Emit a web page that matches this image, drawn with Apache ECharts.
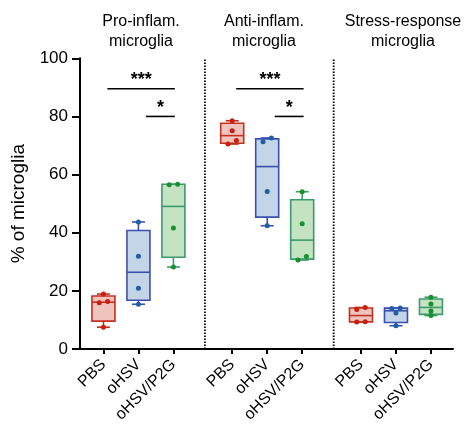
<!DOCTYPE html>
<html><head><meta charset="utf-8">
<script src="https://cdn.jsdelivr.net/npm/echarts@6/dist/echarts.min.js"></script>
<style>html,body{margin:0;padding:0;background:#fff}#c{width:469px;height:435px}</style>
</head><body><div id="c"></div>
<script>
// ---- data ----
const groupTitles = ['Pro-inflam.\nmicroglia', 'Anti-inflam.\nmicroglia', 'Stress-response\nmicroglia'];
const treatments = ['PBS', 'oHSV', 'oHSV/P2G'];
// individual animals (% of microglia), per group: [pro, anti, stress]
const pbsValues  = [[18.9, 16.3, 15.9, 7.5], [78.5, 75.1, 71.7, 70.5], [14.3, 13.6, 9.4, 9.3]];
const ohsvValues = [[43.7, 31.9, 20.9, 15.4], [72.6, 71.3, 54.2, 42.4], [14.1, 13.9, 12.4, 8.0]];
const p2gValues  = [[56.7, 56.5, 41.6, 28.2], [54.1, 43.1, 31.8, 30.6], [17.8, 15.5, 13.1, 11.5]];
const yTicks = [0, 20, 40, 60, 80, 100];
// significance brackets
const sigGroup = [0, 0, 1, 1];
const sigFrom  = [0, 1, 0, 1];
const sigTo    = [2, 2, 2, 2];
const sigLevel = [89.5, 80, 89.5, 80];
const sigText  = ['***', '*', '***', '*'];

// ---- styles / layout ----
const FONT = 'Liberation Sans, Arial, Helvetica, sans-serif';
const STROKE = ['#c5311f', '#3b4fb0', '#3d9a6e'];
const FILL   = ['#efc4bf', '#c3d5e6', '#c3e3c3'];
const POINT  = ['#c71f10', '#1f5fa8', '#17922a'];
const GROUP_START = 0.67, GROUP_STRIDE = 3.68, ITEM_STEP = 1.0, X_MAX = 10.66;
const TITLE_X = [141, 264, 403];
const xPos = (g, i) => +(GROUP_START + g * GROUP_STRIDE + i * ITEM_STEP).toFixed(3);

const allValues = [pbsValues, ohsvValues, p2gValues];

function quart(sorted, p) {
  const n = sorted.length;
  let pos = p * (n + 1) - 1;
  if (pos < 0) pos = 0;
  if (pos > n - 1) pos = n - 1;
  const lo = Math.floor(pos), f = pos - lo;
  return lo + 1 < n ? sorted[lo] + f * (sorted[lo + 1] - sorted[lo]) : sorted[lo];
}

const tickPositions = [], tickNames = {};
const boxData = [];
const pointData = [[], [], []];
for (let g = 0; g < 3; g++) {
  for (let t = 0; t < 3; t++) {
    const x = xPos(g, t);
    tickPositions.push(x);
    tickNames[x.toFixed(2)] = treatments[t];
    const s = allValues[t][g].slice().sort((a, b) => a - b);
    boxData.push([x, s[0], quart(s, 0.25), quart(s, 0.5), quart(s, 0.75), s[s.length - 1], t]);
    // jitter near-identical values side by side
    let i = 0;
    while (i < s.length) {
      if (i + 1 < s.length && s[i + 1] - s[i] < 1.4) {
        pointData[t].push([x - 0.12, s[i]]);
        pointData[t].push([x + 0.12, s[i + 1]]);
        i += 2;
      } else {
        pointData[t].push([x, s[i]]);
        i += 1;
      }
    }
  }
}
const sepData = [0, 1].map(g => [+(xPos(g, 2) + 0.9).toFixed(3)]);
const sigData = sigGroup.map((g, k) => [xPos(g, sigFrom[k]), xPos(g, sigTo[k]), sigLevel[k], k]);

function renderBox(params, api) {
  const x = api.value(0), t = api.value(6);
  const c = v => api.coord([x, v]);
  const cx = c(api.value(1))[0];
  const yMin = c(api.value(1))[1], yQ1 = c(api.value(2))[1], yMed = c(api.value(3))[1],
        yQ3 = c(api.value(4))[1], yMax = c(api.value(5))[1];
  const hw = 11.5, cw = 6.5;
  const ls = { stroke: STROKE[t], lineWidth: 1.6, fill: null };
  return { type: 'group', children: [
    { type: 'line', shape: { x1: cx, y1: yQ3, x2: cx, y2: yMax }, style: ls },
    { type: 'line', shape: { x1: cx, y1: yQ1, x2: cx, y2: yMin }, style: ls },
    { type: 'line', shape: { x1: cx - cw, y1: yMax, x2: cx + cw, y2: yMax }, style: ls },
    { type: 'line', shape: { x1: cx - cw, y1: yMin, x2: cx + cw, y2: yMin }, style: ls },
    { type: 'rect', shape: { x: cx - hw, y: yQ3, width: 2 * hw, height: yQ1 - yQ3 },
      style: { fill: FILL[t], stroke: STROKE[t], lineWidth: 1.6 } },
    { type: 'line', shape: { x1: cx - hw, y1: yMed, x2: cx + hw, y2: yMed }, style: ls }
  ] };
}

function renderSep(params, api) {
  const x = api.value(0);
  const a = api.coord([x, 0]), b = api.coord([x, 100]);
  return { type: 'line', shape: { x1: a[0], y1: a[1], x2: b[0], y2: b[1] },
    style: { stroke: '#000', lineWidth: 1.8, lineDash: [1.5, 1.5] } };
}

function renderSig(params, api) {
  const k = api.value(3);
  const a = api.coord([api.value(0), api.value(2)]);
  const b = api.coord([api.value(1), api.value(2)]);
  const x1 = a[0] + (sigFrom[k] === 0 ? 4 : 7.5), x2 = b[0] + 1.4, y = a[1];
  return { type: 'group', children: [
    { type: 'line', shape: { x1, y1: y, x2, y2: y }, style: { stroke: '#000', lineWidth: 1.6 } },
    { type: 'text', style: { text: sigText[k], x: (x1 + x2) / 2, y: y - 8.5, align: 'center',
      verticalAlign: 'middle', font: 'bold 18px ' + FONT, fill: '#000' } }
  ] };
}

const chart = echarts.init(document.getElementById('c'), null, { renderer: 'canvas' });
const option = {
  animation: false,
  backgroundColor: '#fff',
  textStyle: { fontFamily: FONT },
  grid: { left: 80, right: 16, top: 58.3, bottom: 86 },
  xAxis: {
    type: 'value', min: 0, max: X_MAX,
    splitLine: { show: false },
    axisLine: { show: true, onZero: false, lineStyle: { color: '#000', width: 2 } },
    axisTick: { show: true, customValues: tickPositions, length: 5, lineStyle: { color: '#000', width: 2 } },
    axisLabel: {
      show: true, customValues: tickPositions, rotate: 45, margin: 13,
      fontSize: 16, color: '#000', fontFamily: FONT,
      formatter: v => tickNames[(+v).toFixed(2)] || ''
    }
  },
  yAxis: {
    type: 'value', min: 0, max: 100, interval: 20,
    splitLine: { show: false },
    axisLine: { show: true, lineStyle: { color: '#000', width: 2 } },
    axisTick: { show: true, length: 8, lineStyle: { color: '#000', width: 2 } },
    axisLabel: { fontSize: 17, color: '#000', margin: 12, fontFamily: FONT },
    name: '% of microglia', nameLocation: 'middle', nameGap: 52,
    nameTextStyle: { fontSize: 19, color: '#000', fontFamily: FONT }
  },
  graphic: groupTitles.map((t, g) => ({
    type: 'text', silent: true,
    style: { text: t, x: TITLE_X[g], y: 11.5, align: 'center', verticalAlign: 'top',
      font: '16px ' + FONT, lineHeight: 20, fill: '#000' }
  })),
  series: [
    { type: 'custom', renderItem: renderSep, data: sepData, encode: { x: 0 }, silent: true, z: 1 },
    { type: 'custom', renderItem: renderBox, data: boxData, encode: { x: 0, y: [1, 2, 3, 4, 5] }, z: 2 },
    { type: 'custom', renderItem: renderSig, data: sigData, encode: { x: [0, 1], y: 2 }, z: 3 },
    ...[0, 1, 2].map(t => ({
      type: 'scatter', name: treatments[t], data: pointData[t], symbol: 'circle', symbolSize: 5,
      itemStyle: { color: POINT[t], opacity: 1 }, z: 4
    }))
  ]
};
chart.setOption(option);
</script></body></html>
